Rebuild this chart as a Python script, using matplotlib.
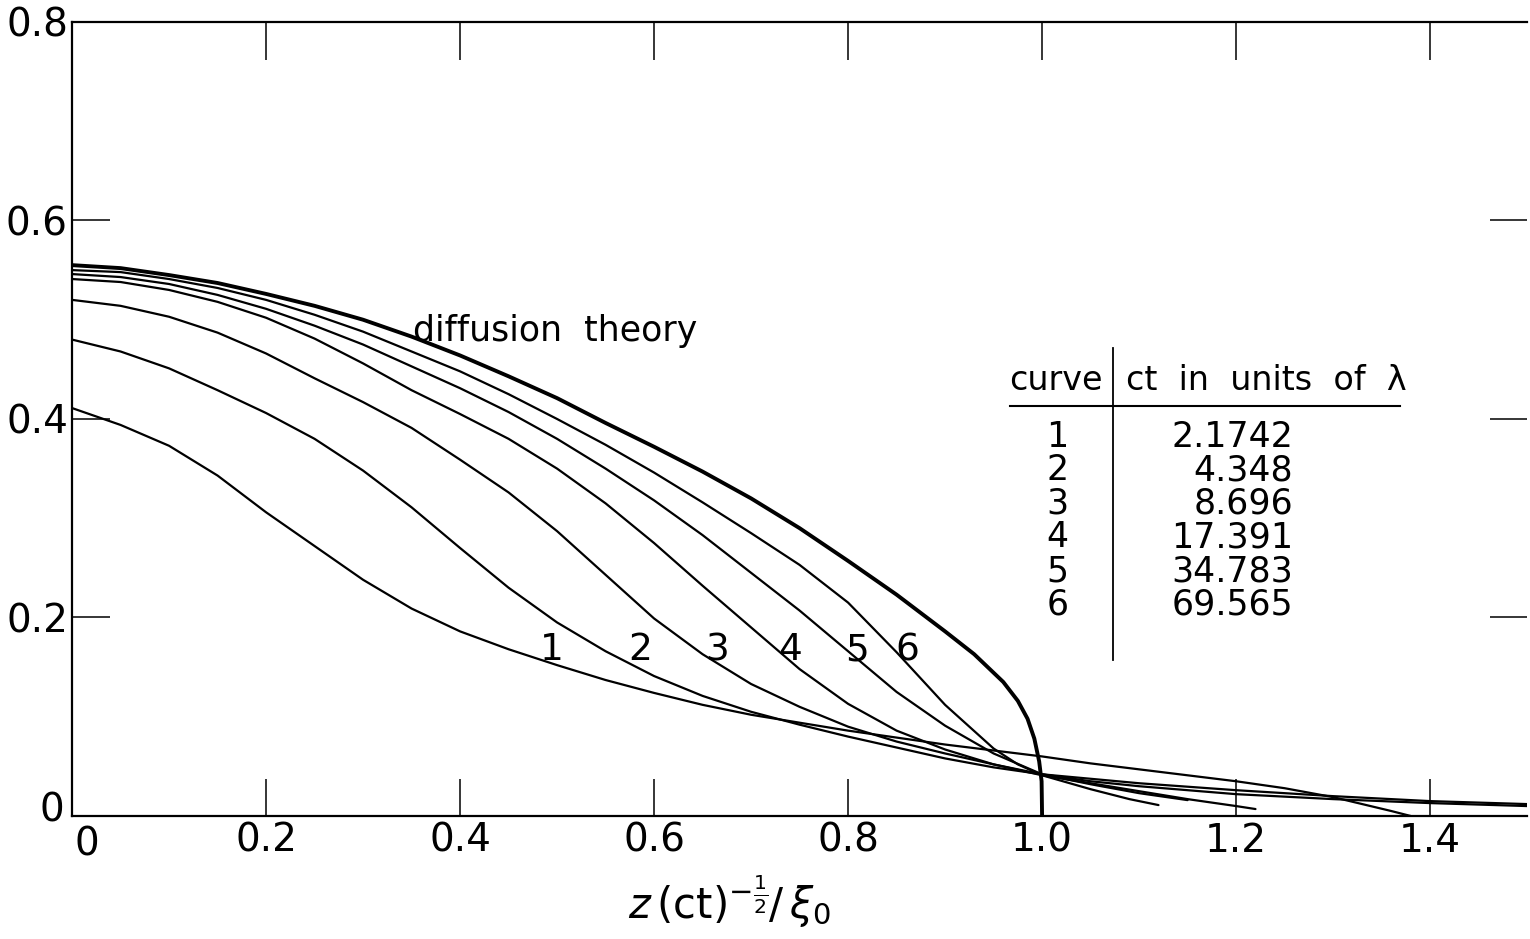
import numpy as np
import matplotlib
matplotlib.use('Agg')
import matplotlib.pyplot as plt
import matplotlib.transforms as mtransforms
from matplotlib.lines import Line2D

plt.rcParams['font.family'] = ['DejaVu Sans']
plt.rcParams['mathtext.fontset'] = 'dejavusans'

# diffusion theory curve
diff_x = [0, 0.05, 0.1, 0.15, 0.2, 0.25, 0.3, 0.35, 0.4, 0.45, 0.5, 0.55, 0.6, 0.65, 0.7,
          0.75, 0.8, 0.85, 0.9, 0.93, 0.96, 0.975, 0.985, 0.992, 0.997, 0.9995, 1.0]
diff_y = [0.555, 0.552, 0.545, 0.537, 0.526, 0.514, 0.500, 0.483, 0.464, 0.443, 0.421, 0.396,
          0.372, 0.347, 0.320, 0.290, 0.257, 0.223, 0.186, 0.163, 0.135, 0.116, 0.098, 0.078,
          0.055, 0.035, 0.0]

# curves 1..6
c1_x = [0, 0.05, 0.1, 0.15, 0.2, 0.25, 0.3, 0.35, 0.4, 0.45, 0.5, 0.55, 0.6, 0.65, 0.7, 0.75,
        0.8, 0.85, 0.9, 0.95, 1.0, 1.05, 1.1, 1.15, 1.2, 1.25, 1.3, 1.33, 1.36, 1.38]
c1_y = [0.411, 0.394, 0.373, 0.343, 0.306, 0.272, 0.238, 0.209, 0.186, 0.168, 0.152, 0.137,
        0.124, 0.112, 0.102, 0.094, 0.086, 0.079, 0.072, 0.066, 0.060, 0.053, 0.047, 0.041,
        0.035, 0.028, 0.019, 0.012, 0.005, 0.0]

c2_x = [0, 0.05, 0.1, 0.15, 0.2, 0.25, 0.3, 0.35, 0.4, 0.45, 0.5, 0.55, 0.6, 0.65, 0.7, 0.75,
        0.8, 0.85, 0.9, 0.95, 1.0, 1.1, 1.2, 1.3, 1.4, 1.5]
c2_y = [0.480, 0.468, 0.451, 0.429, 0.406, 0.380, 0.348, 0.311, 0.270, 0.230, 0.195, 0.166,
        0.141, 0.121, 0.105, 0.092, 0.080, 0.069, 0.058, 0.049, 0.042, 0.033, 0.026, 0.020,
        0.015, 0.012]

c3_x = [0, 0.05, 0.1, 0.15, 0.2, 0.25, 0.3, 0.35, 0.4, 0.45, 0.5, 0.55, 0.6, 0.65, 0.7, 0.75,
        0.8, 0.85, 0.9, 0.95, 1.0, 1.05, 1.1, 1.2, 1.3, 1.4, 1.5]
c3_y = [0.520, 0.514, 0.503, 0.487, 0.466, 0.441, 0.417, 0.391, 0.359, 0.326, 0.287, 0.243,
        0.199, 0.163, 0.133, 0.110, 0.090, 0.075, 0.063, 0.052, 0.042, 0.035, 0.030, 0.022,
        0.017, 0.013, 0.010]

c4_x = [0, 0.05, 0.1, 0.15, 0.2, 0.25, 0.3, 0.35, 0.4, 0.45, 0.5, 0.55, 0.6, 0.65, 0.7, 0.75,
        0.8, 0.85, 0.9, 0.95, 1.0, 1.05, 1.1, 1.15, 1.2, 1.22]
c4_y = [0.541, 0.538, 0.530, 0.518, 0.502, 0.481, 0.456, 0.429, 0.405, 0.380, 0.350, 0.315,
        0.275, 0.232, 0.190, 0.148, 0.113, 0.086, 0.067, 0.052, 0.041, 0.033, 0.025, 0.017,
        0.010, 0.007]

c5_x = [0, 0.05, 0.1, 0.15, 0.2, 0.25, 0.3, 0.35, 0.4, 0.45, 0.5, 0.55, 0.6, 0.65, 0.7, 0.75,
        0.8, 0.85, 0.9, 0.95, 1.0, 1.05, 1.1, 1.15]
c5_y = [0.546, 0.543, 0.536, 0.525, 0.511, 0.494, 0.475, 0.453, 0.431, 0.407, 0.380, 0.350,
        0.318, 0.283, 0.245, 0.207, 0.166, 0.125, 0.091, 0.063, 0.042, 0.032, 0.023, 0.016]

c6_x = [0, 0.05, 0.1, 0.15, 0.2, 0.25, 0.3, 0.35, 0.4, 0.45, 0.5, 0.55, 0.6, 0.65, 0.7, 0.75,
        0.8, 0.85, 0.9, 0.95, 0.975, 1.0, 1.05, 1.09, 1.12]
c6_y = [0.550, 0.548, 0.541, 0.532, 0.520, 0.505, 0.488, 0.468, 0.448, 0.425, 0.400, 0.374,
        0.346, 0.316, 0.285, 0.253, 0.215, 0.165, 0.112, 0.068, 0.052, 0.041, 0.027, 0.017,
        0.011]

curve_labels = ['1', '2', '3', '4', '5', '6']
label_x = [0.495, 0.586, 0.665, 0.740, 0.809, 0.861]
ct_values = ['2.1742', '4.348', '8.696', '17.391', '34.783', '69.565']

fig = plt.figure(figsize=(15.3, 9.39), dpi=100)
ax = fig.add_axes([0.0471, 0.131, 0.951, 0.8456])

for xs, ys in [(c1_x, c1_y), (c2_x, c2_y), (c3_x, c3_y), (c4_x, c4_y), (c5_x, c5_y), (c6_x, c6_y)]:
    ax.plot(xs, ys, color='black', lw=1.6, solid_capstyle='round', solid_joinstyle='round')
ax.plot(diff_x, diff_y, color='black', lw=2.8, solid_capstyle='round', solid_joinstyle='round')

ax.set_xlim(0, 1.5)
ax.set_ylim(0, 0.8)

ax.set_xticks([0, 0.2, 0.4, 0.6, 0.8, 1.0, 1.2, 1.4])
ax.set_xticklabels(['0', '0.2', '0.4', '0.6', '0.8', '1.0', '1.2', '1.4'])
ax.set_yticks([0, 0.2, 0.4, 0.6, 0.8])
ax.set_yticklabels(['0', '0.2', '0.4', '0.6', '0.8'])
ax.tick_params(axis='both', direction='in', length=27, width=1.1, labelsize=28,
               top=True, right=True, colors='black')
ax.tick_params(axis='x', pad=4)
ax.tick_params(axis='y', pad=3)
for s in ['left', 'bottom', 'top']:
    ax.spines[s].set_linewidth(1.6)
ax.spines['right'].set_visible(False)

# nudge the two zeros at the corner apart, like the original lettering
fig.canvas.draw()
xl0 = ax.get_xticklabels()[0]
xl0.set_transform(xl0.get_transform() + mtransforms.ScaledTranslation(0.15, -0.04, fig.dpi_scale_trans))
yl0 = ax.get_yticklabels()[0]
yl0.set_transform(yl0.get_transform() + mtransforms.ScaledTranslation(-0.04, 0.09, fig.dpi_scale_trans))

# curve number labels
for lab, lx in zip(curve_labels, label_x):
    ax.text(lx, 0.167, lab, fontsize=27, ha='center', va='center')

ax.text(0.498, 0.479, 'diffusion  theory', fontsize=25, ha='center', va='baseline')

# table of ct values
ax.text(1.062, 0.439, 'curve', fontsize=24, ha='right', va='center')
ax.text(1.086, 0.439, 'ct  in  units  of  λ', fontsize=24, ha='left', va='center')
ax.add_line(Line2D([1.073, 1.073], [0.157, 0.472], color='black', lw=1.3))
ax.add_line(Line2D([0.967, 1.369], [0.413, 0.413], color='black', lw=1.5))
for i, (lab, val) in enumerate(zip(curve_labels, ct_values)):
    yy = 0.382 - 0.0338 * i
    ax.text(1.016, yy, lab, fontsize=25, ha='center', va='center')
    ax.text(1.259, yy, val, fontsize=25, ha='right', va='center')

fig.text(0.477, 0.04, r'$z\,(\mathrm{ct})^{-\frac{1}{2}}\!\!\;/\,\xi_0$', fontsize=30,
         ha='center', va='center')

fig.savefig('out.png', dpi=100, facecolor='white')
